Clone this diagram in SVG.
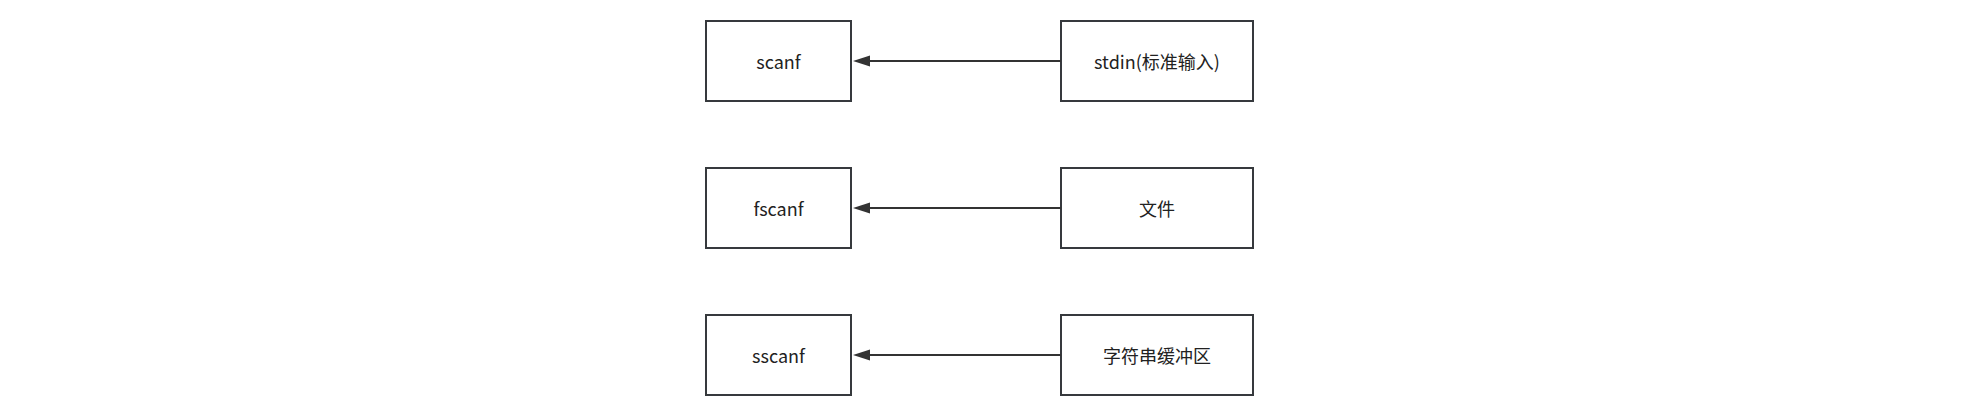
<svg xmlns="http://www.w3.org/2000/svg" width="1967" height="406" viewBox="0 0 1967 406">
<style>
.box{fill:#fff;stroke:#36393d;stroke-width:2}
.lbl{font-family:"Microsoft YaHei","Noto Sans CJK SC","Noto Sans",sans-serif;font-size:18px;fill:#222;text-anchor:middle;dominant-baseline:central}
.edge{stroke:#333;stroke-width:2;fill:none}
</style>
<defs>
<marker id="arr" markerWidth="10" markerHeight="10" refX="0" refY="5" orient="auto" markerUnits="userSpaceOnUse" viewBox="0 0 10 10">
<path d="M0,5 L10,0 L10,10 Z" fill="#333"/>
</marker>
</defs>
<rect width="1967" height="406" fill="#fff"/>
<g id="scanf"><rect class="box" x="706" y="21" width="145" height="80"/><text class="lbl" x="778.5" y="61">scanf</text></g>
<g id="stdin"><rect class="box" x="1061" y="21" width="192" height="80"/><text class="lbl" x="1157" y="61">stdin(标准输入)</text></g>
<g id="fscanf"><rect class="box" x="706" y="168" width="145" height="80"/><text class="lbl" x="778.5" y="208">fscanf</text></g>
<g id="file"><rect class="box" x="1061" y="168" width="192" height="80"/><text class="lbl" x="1157" y="208">文件</text></g>
<g id="sscanf"><rect class="box" x="706" y="315" width="145" height="80"/><text class="lbl" x="778.5" y="355">sscanf</text></g>
<g id="strbuf"><rect class="box" x="1061" y="315" width="192" height="80"/><text class="lbl" x="1157" y="355">字符串缓冲区</text></g>
<g id="connectors">
<path class="edge" d="M1061,61 L870,61"/>
<path d="M853,61 L870,55.5 L870,66.5 Z" fill="#333"/>
<path class="edge" d="M1061,208 L870,208"/>
<path d="M853,208 L870,202.5 L870,213.5 Z" fill="#333"/>
<path class="edge" d="M1061,355 L870,355"/>
<path d="M853,355 L870,349.5 L870,360.5 Z" fill="#333"/>
</g>
</svg>
